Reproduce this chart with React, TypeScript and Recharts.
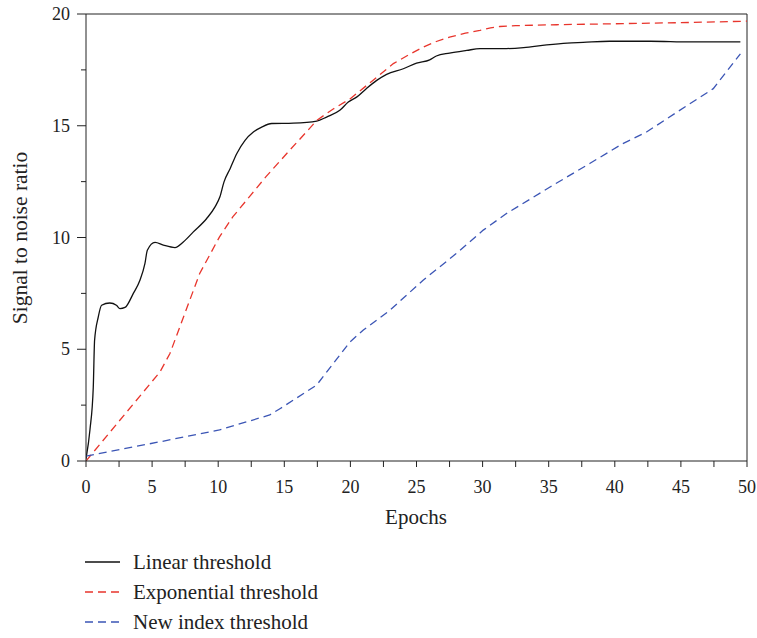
import React from 'react';
import { LineChart, Line, XAxis, YAxis, ReferenceLine, Legend } from 'recharts';

// values
const linearEpochs = [0, 0.3, 0.55, 0.65, 0.93, 1.18, 1.8, 2.3, 2.57, 2.95, 3.58, 4.08, 4.46, 4.64, 5.22, 5.85, 6.73, 7.36, 8.12, 9.13, 9.76, 10.13, 10.44, 10.9, 11.4, 12.03, 12.66, 13.29, 14.05, 15.68, 17.45, 18.2, 19.2, 19.84, 20.47, 21.2, 21.99, 22.74, 24, 25, 26, 26.5, 27.5, 28.8, 29.8, 31.56, 33.1, 34.85, 36.4, 37.6, 39.6, 42.7, 45.7, 49.5];
const linearSnr = [0.1, 1.4, 3.3, 5.4, 6.45, 6.97, 7.07, 6.97, 6.82, 6.87, 7.5, 8.09, 8.84, 9.43, 9.78, 9.66, 9.55, 9.8, 10.25, 10.85, 11.37, 11.82, 12.49, 13.08, 13.75, 14.35, 14.72, 14.94, 15.1, 15.12, 15.21, 15.39, 15.69, 16.06, 16.28, 16.66, 17.03, 17.3, 17.55, 17.8, 17.95, 18.12, 18.25, 18.37, 18.45, 18.45, 18.5, 18.62, 18.7, 18.73, 18.78, 18.78, 18.75, 18.75];

const expEpochs = [0, 5.6, 6.35, 8.6, 10.1, 11.1, 12.4, 13.6, 15.4, 16.9, 17.45, 18.7, 19.97, 21.7, 23.25, 24.4, 25.5, 26.5, 27.5, 28.7, 29.8, 30.6, 31.3, 32.5, 35.6, 40.6, 45.7, 50];
const expSnr = [0, 3.99, 4.81, 8.39, 10.03, 10.92, 11.85, 12.71, 13.9, 14.87, 15.24, 15.75, 16.2, 17.03, 17.78, 18.17, 18.52, 18.77, 18.97, 19.14, 19.27, 19.38, 19.44, 19.48, 19.52, 19.57, 19.62, 19.68];

const newEpochs = [0, 5.6, 10.1, 13.9, 14.7, 15.7, 17.45, 19.97, 20.98, 23, 25.5, 28, 30.05, 31.8, 35.1, 38.1, 40.6, 42.4, 44.7, 47.45, 49.5];
const newSnr = [0.22, 0.86, 1.39, 2.06, 2.35, 2.73, 3.4, 5.33, 5.86, 6.75, 8.09, 9.28, 10.33, 11.07, 12.26, 13.31, 14.2, 14.72, 15.61, 16.66, 18.22];

const xTicks = [0, 2.5, 5, 7.5, 10, 12.5, 15, 17.5, 20, 22.5, 25, 27.5, 30, 32.5, 35, 37.5, 40, 42.5, 45, 47.5, 50];
const yTicks = [0, 2.5, 5, 7.5, 10, 12.5, 15, 17.5, 20];

const toPoints = (xs: number[], ys: number[]) => xs.map((x, i) => ({ epoch: x, snr: ys[i] }));

const series = [
  { name: 'Linear threshold', data: toPoints(linearEpochs, linearSnr), color: '#111111', dash: undefined, type: 'monotone' },
  { name: 'Exponential threshold', data: toPoints(expEpochs, expSnr), color: '#e8352c', dash: '8 5', type: 'linear' },
  { name: 'New index threshold', data: toPoints(newEpochs, newSnr), color: '#3b55b5', dash: '8 5', type: 'linear' },
];

const FONT = 'Liberation Serif, Times New Roman, serif';
const AXIS = '#222';

const XTick = ({ x, y, payload }: any) => (
  <g>
    <line x1={x} y1={y} x2={x} y2={y + 6} stroke={AXIS} />
    {payload.value % 5 === 0 && (
      <text x={x} y={y + 32} textAnchor="middle" style={{ fontFamily: FONT }} fontSize={18} fill="#222">
        {payload.value}
      </text>
    )}
  </g>
);

const YTick = ({ x, y, payload }: any) => {
  const major = payload.value % 5 === 0;
  return (
    <g>
      <line x1={x - (major ? 9 : 5)} y1={y} x2={x} y2={y} stroke={AXIS} />
      {major && (
        <text x={x - 16} y={y} dy="0.34em" textAnchor="end" style={{ fontFamily: FONT }} fontSize={18} fill="#222">
          {payload.value}
        </text>
      )}
    </g>
  );
};

const LegendBox = () => (
  <div style={{ fontFamily: FONT, fontSize: 21, color: '#222' }}>
    {series.map((s) => (
      <div key={s.name} style={{ display: 'flex', alignItems: 'center', height: 30 }}>
        <svg width={48} height={10}>
          <line x1={0} y1={5} x2={35} y2={5} stroke={s.color} strokeWidth={1.3} strokeDasharray={s.dash} />
        </svg>
        <span>{s.name}</span>
      </div>
    ))}
  </div>
);

export default function App() {
  return (
    <div style={{ position: 'absolute', left: 0, top: 0, background: '#fff', fontFamily: FONT }}>
      <LineChart width={757} height={638} margin={{ top: 14, right: 10, bottom: 117, left: 0 }}>
        <XAxis
          dataKey="epoch"
          type="number"
          domain={[0, 50]}
          ticks={xTicks}
          interval={0}
          allowDataOverflow
          tickSize={0}
          tickMargin={0}
          tickLine={false}
          tick={<XTick />}
          axisLine={{ stroke: AXIS }}
          height={60}
          label={{
            content: () => (
              <text x={416} y={524} textAnchor="middle" style={{ fontFamily: FONT }} fontSize={21} fill="#222">
                Epochs
              </text>
            ),
          }}
        />
        <YAxis
          dataKey="snr"
          type="number"
          domain={[0, 20]}
          ticks={yTicks}
          interval={0}
          allowDataOverflow
          tickSize={0}
          tickMargin={0}
          tickLine={false}
          tick={<YTick />}
          axisLine={{ stroke: AXIS }}
          width={86}
          label={{
            content: () => (
              <text x={20} y={238} transform="rotate(-90 20 238)" dy="0.34em" textAnchor="middle" style={{ fontFamily: FONT }} fontSize={21.5} fill="#222">
                Signal to noise ratio
              </text>
            ),
          }}
        />
        <ReferenceLine y={20} stroke={AXIS} />
        <ReferenceLine x={50} stroke={AXIS} />
        {series.map((s) => (
          <Line
            key={s.name}
            data={s.data}
            dataKey="snr"
            name={s.name}
            type={s.type as any}
            stroke={s.color}
            strokeWidth={1.3}
            strokeDasharray={s.dash}
            dot={false}
            activeDot={false}
            isAnimationActive={false}
          />
        ))}
        <Legend
          layout="vertical"
          align="center"
          verticalAlign="middle"
          content={<LegendBox />}
          wrapperStyle={{ top: 547, left: 85, width: 320, height: 90 }}
        />
      </LineChart>
    </div>
  );
}
